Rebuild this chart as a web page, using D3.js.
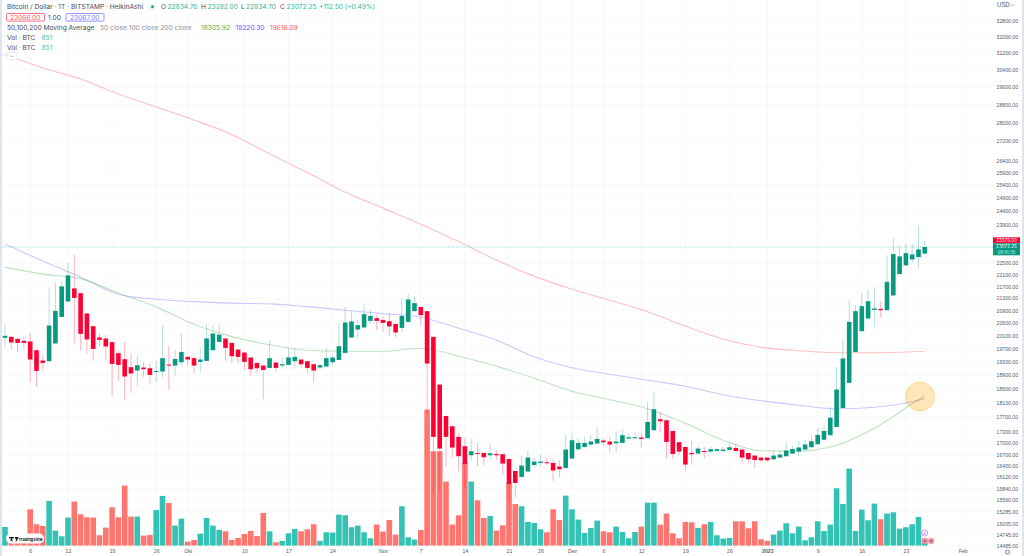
<!DOCTYPE html>
<html>
<head>
<meta charset="utf-8">
<script src="https://cdn.jsdelivr.net/npm/d3@7/dist/d3.min.js"></script>
<style>
  html, body { margin: 0; padding: 0; background: #fff; }
  svg { display: block; font-family: Inter, "Noto Sans", sans-serif; }
  .axis text { fill: #5a5d68; font-size: 5.2px; }
  .axis .domain, .axis line { display: none; }
  .legend text { font-size: 6.65px; fill: #4a4d57; }
</style>
</head>
<body>
<script>
// daily Heikin Ashi candles, 2 Sep 2022 .. 26 Jan 2023
const firstDay = new Date(Date.UTC(2022, 8, 2));

const opens = [
  20030,20060,19997,19934,19916,19647,19334,19313,19854,20693,
  21195,21630,21472,20803,20396,20040,20009,19894,19556,19373,
  19134,19035,19125,19104,18994,19006,19212,19183,19283,19444,
  19404,19292,19322,19647,19903,20009,19873,19669,19577,19425,
  19262,19183,19113,19274,19183,19203,19313,19364,19313,19223,
  19125,19155,19283,19352,19565,20040,20291,20355,20565,20652,
  20597,20555,20469,20342,20533,20878,21018,20878,20060,18625,
  17736,17454,17167,16919,16683,16743,16743,16683,16717,16709,
  16587,16280,16129,16265,16433,16484,16502,16484,16392,16357,
  16597,16840,16900,16964,16990,17070,17043,16998,17006,17123,
  17131,17150,17131,17345,17645,17617,17326,17025,16900,16743,
  16727,16795,16779,16795,16795,16821,16874,16832,16743,16675,
  16623,16623,16579,16623,16657,16727,16779,16832,16892,16972,
  17091,17212,17435,17958,18672,19595,20238,20642,20920,20953,
  20910,21395,22118,22420,22630,22712,22834.7
];
const highs = [
  20460,20070,20018,20040,20185,19678,19525,21630,21833,21887,
  22511,22810,21472,20803,20396,20164,20112,19894,19647,19903,
  19546,19495,19292,19244,19322,20396,19780,19647,20185,19486,
  19465,19730,20460,20412,20450,20009,19873,19669,19577,19425,
  19262,19183,19956,19274,19425,19700,19709,19364,19313,19223,
  19244,19709,19525,20482,21018,20887,20610,21107,20910,20749,
  20693,20803,20469,21295,21462,21372,21018,20878,20060,18625,
  17736,17454,17257,17150,17112,16990,16761,16990,16813,16735,
  16587,16280,16675,16813,16639,16709,16613,16553,16553,17238,
  17273,17123,17167,17212,17435,17123,17167,17318,17364,17257,
  17283,17265,18118,18394,17847,17617,17326,17025,16900,17060,
  16927,16900,16919,16866,16900,16990,16972,16832,16743,16675,
  16623,16623,16795,16821,17006,16919,17043,17078,17192,17399,
  17489,17992,19143,20009,21261,21074,21462,21606,21663,21205,
  22783,23382,23078,23177,23177,23830,23282
];
const lows = [
  19770,19680,19595,19669,18692,18556,19044,19313,19854,20693,
  21195,19873,19647,19525,19343,19749,19364,18288,18730,18174,
  18383,18556,18847,18654,18701,18829,18480,18888,19193,19193,
  18947,18994,19322,19647,19903,19343,19262,19244,19044,18868,
  18965,18203,19113,18994,19095,19203,19095,19125,18947,18683,
  19065,19125,19214,19352,19565,20040,19997,20355,20482,20269,
  20216,20081,20060,20197,20533,20878,20406,17755,15700,15756,
  16407,16623,16280,15823,16535,16400,16426,16571,16553,16190,
  15530,15620,16129,16265,16357,16400,16426,16029,16129,16357,
  16597,16813,16866,16900,16990,16938,16753,16753,17006,17097,
  17097,16885,17131,17345,17300,16597,16597,16683,16316,16451,
  16709,16597,16761,16779,16753,16795,16779,16502,16484,16357,
  16484,16502,16553,16613,16649,16717,16665,16832,16892,16972,
  17091,17212,17435,17958,18672,19595,20238,20642,20374,20674,
  20910,21395,22118,22420,22511,22350,22834.7
];
const closes = [
  20090,19885,19873,19873,19364,19023,19262,20418,20887,21698,
  22073,21315,20153,19978,19687,19965,19761,19232,19203,18859,
  18947,19193,19074,18906,19023,19404,19183,19383,19595,19364,
  19183,19364,20009,20164,20128,19718,19465,19444,19292,19074,
  19104,19053,19404,19113,19223,19425,19444,19223,19113,19035,
  19193,19404,19425,19771,20514,20546,20428,20781,20726,20565,
  20501,20387,20197,20726,21261,21140,20749,19244,17167,16858,
  17167,16885,16657,16459,16787,16717,16631,16735,16683,16469,
  15954,15979,16418,16623,16520,16520,16477,16290,16324,16832,
  17078,17006,17006,17043,17113,17025,16964,17043,17212,17158,
  17158,17113,17571,17922,17590,17033,16717,16779,16443,16709,
  16858,16779,16840,16840,16832,16892,16795,16623,16579,16561,
  16553,16553,16675,16701,16805,16847,16885,16964,17051,17220,
  17326,17686,18480,19395,20533,20878,21041,21205,20966,20910,
  21853,22818,22736,22854,22806,22985,23072.25
];
const volumes = [
  2240,960,840,960,4360,2560,2360,5360,1800,1120,
  3360,5280,3760,3400,3360,1240,2160,4600,3400,7200,
  3480,3480,1200,1280,4280,5960,5120,2400,3240,480,
  680,1440,3320,2400,1880,1720,680,920,1400,1760,
  1160,3920,1720,400,560,1480,2000,1720,1960,2560,
  560,1600,1560,3720,3640,2200,2400,1600,880,2520,
  1680,3080,1320,4720,1000,720,1880,16320,11320,11320,
  7680,2520,3640,9920,7680,5440,3320,3560,1800,2440,
  7480,5000,4720,2840,2720,1960,1600,4360,3080,6000,
  4360,3120,1520,2120,3000,1720,1600,2280,1640,880,
  1640,2280,5160,5160,2520,3840,1480,880,2840,2800,
  2120,2560,2840,1240,840,920,2920,2920,2080,2920,
  760,560,1320,1800,2680,1480,2280,640,1000,2920,
  1760,2520,6880,5000,9240,1760,4320,3040,5040,3160,
  3840,4000,2040,2200,2560,3440,851
];

// moving averages, read every sixth candle (last point is the last candle)
const maDayIndex = [0,6,12,18,24,30,36,42,48,54,60,66,72,78,84,90,96,102,108,114,120,126,132,138,144,146];
const ma50 = [22361,22118,21963,21472,21018,20460,20066,19817,19647,19617,19617,19709,19465,19163,18809,18431,18188,17936,17535,17078,16800,16787,16945,17399,18076,18305.92];
const ma100 = [23184,22571,22014,21438,21271,21189,21140,21117,21025,20910,20797,20684,20333,19956,19449,19119,18926,18750,18576,18331,18160,18034,17936,17978,18132,18220.3];
const ma200 = [31141,30484,29966,29273,28687,28113,27486,26664,25906,25128,24511,23907,23267,22606,22049,21606,21238,20862,20396,19987,19740,19632,19571,19571,19600,19616.09];

const yTicks = [32800,32000,31200,30400,29600,28800,28000,27200,26400,25900,25400,24900,24400,23900,22500,22100,21700,21300,20900,20500,20100,19700,19300,18900,18500,18100,17700,17300,17000,16700,16400,16120,15840,15560,15285,15005,14745,14485];

const xTickDates = [[2022,8,6],[2022,8,12],[2022,8,19],[2022,8,26],[2022,9,1],[2022,9,10],[2022,9,17],[2022,9,24],[2022,10,1],[2022,10,7],[2022,10,14],[2022,10,21],[2022,10,26],[2022,11,1],[2022,11,6],[2022,11,12],[2022,11,19],[2022,11,26],[2023,0,1],[2023,0,9],[2023,0,16],[2023,0,23],[2023,1,1]];
const xTickLabels = ["6","12","19","26","Okt","10","17","24","Nov","7","14","21","26","Dez","6","12","19","26","2023","9","16","23","Feb"];

const headerValues = ["22834.70","23282.00","22834.70","23072.25"];
const lastPrice = 23072.25, redPrice = 23376;

const width = 1024, height = 556;
const upColor = "#089981", downColor = "#ff0033";
const volUp = "#33c2b3", volDown = "#ff7670";
const lightUp = "rgba(8,153,129,0.3)", lightDown = "rgba(255,0,51,0.3)";
const gridColor = "#f6f6f9";

const dayMs = 864e5;
const dayOf = i => new Date(firstDay.getTime() + i * dayMs);

const x = d3.scaleUtc()
  .domain([dayOf(0), dayOf(146)])
  .range([5, 924.8]);
const y = d3.scaleLog()
  .domain([14485, 32800])
  .range([546, 21]);
const yVol = d3.scaleLinear()
  .domain([0, 16320])
  .range([545.6, 409.6]);

const svg = d3.select("body").append("svg")
  .attr("width", width)
  .attr("height", height);

const xDates = xTickDates.map(d => new Date(Date.UTC(d[0], d[1], d[2])));

// grid
const grid = svg.append("g").attr("stroke", gridColor).attr("stroke-width", 0.7);
grid.selectAll(".h").data(yTicks).enter().append("line")
  .attr("x1", 2).attr("x2", 994)
  .attr("y1", d => y(d)).attr("y2", d => y(d));
grid.selectAll(".v").data(xDates).enter().append("line")
  .attr("y1", 0).attr("y2", 546)
  .attr("x1", d => x(d)).attr("x2", d => x(d));

// side strips
svg.append("rect").attr("x", 0).attr("y", 0).attr("width", 2).attr("height", height).attr("fill", "#e1e4f0");
svg.append("rect").attr("x", 1022).attr("y", 0).attr("width", 2).attr("height", height).attr("fill", "#e1e4f0");

const candles = d3.range(opens.length).map(i => ({
  date: dayOf(i), o: opens[i], h: highs[i], l: lows[i], c: closes[i], v: volumes[i], up: closes[i] >= opens[i]
}));

// volume sits behind the candles
const volW = 5.6;
svg.append("g").selectAll("rect").data(candles).enter().append("rect")
  .attr("x", d => x(d.date) - volW / 2)
  .attr("width", volW)
  .attr("y", d => yVol(d.v))
  .attr("height", d => yVol(0) - yVol(d.v))
  .attr("fill", d => d.up ? volUp : volDown);

// moving averages
const maLine = d3.line()
  .x((d, i) => x(dayOf(maDayIndex[i])))
  .y(d => y(d))
  .curve(d3.curveMonotoneX);
[[ma200, "rgba(255,82,82,0.36)"], [ma100, "rgba(101,85,255,0.32)"], [ma50, "rgba(76,175,80,0.36)"]].forEach(m => {
  svg.append("path").attr("d", maLine(m[0]))
    .attr("fill", "none").attr("stroke", m[1]).attr("stroke-width", 1.1);
});

// last price line
svg.append("line")
  .attr("x1", 2).attr("x2", 994)
  .attr("y1", y(lastPrice)).attr("y2", y(lastPrice))
  .attr("stroke", "#089981").attr("stroke-opacity", 0.55)
  .attr("stroke-width", 0.7).attr("stroke-dasharray", "1,1");

// candles
const bodyW = 4.6;
const candle = svg.append("g").selectAll("g").data(candles).enter().append("g");
candle.append("line")
  .attr("x1", d => x(d.date)).attr("x2", d => x(d.date))
  .attr("y1", d => y(d.h)).attr("y2", d => y(d.l))
  .attr("stroke", d => d.up ? lightUp : lightDown)
  .attr("stroke-width", 1);
candle.append("rect")
  .attr("x", d => x(d.date) - bodyW / 2)
  .attr("width", bodyW)
  .attr("y", d => y(Math.max(d.o, d.c)))
  .attr("height", d => Math.max(1, y(Math.min(d.o, d.c)) - y(Math.max(d.o, d.c))))
  .attr("fill", d => d.up ? upColor : downColor);

// highlight circle around the cross
svg.append("circle")
  .attr("cx", x(dayOf(145)) + 1.5).attr("cy", y(18280))
  .attr("r", 14.5)
  .attr("fill", "rgba(255,165,0,0.27)")
  .attr("stroke", "rgba(255,165,0,0.42)").attr("stroke-width", 0.8);

// axes
svg.append("g").attr("class", "axis")
  .attr("transform", "translate(996.5,0)")
  .call(d3.axisRight(y).tickValues(yTicks).tickSize(0).tickPadding(0).tickFormat(d => d.toFixed(2)));
svg.append("g").attr("class", "axis")
  .attr("transform", "translate(0,547)")
  .call(d3.axisBottom(x).tickValues(xDates).tickSize(0).tickPadding(2)
    .tickFormat((d, i) => xTickLabels[i]));
svg.selectAll(".axis text").filter(d => d === xDates[18]).attr("font-weight", 700);

svg.append("text").attr("x", 997).attr("y", 7).attr("fill", "#50535e").attr("font-size", 6).text("USD");
svg.append("path").attr("d", "M1011 4.5l1.5 1.5 1.5-1.5").attr("fill", "none").attr("stroke", "#50535e").attr("stroke-width", 0.5);

// price tags
svg.append("rect").attr("x", 993).attr("y", 237.3).attr("width", 27).attr("height", 6).attr("fill", "#ff0033");
svg.append("text").attr("x", 1006.5).attr("y", 242).attr("text-anchor", "middle").attr("font-size", 4.6).attr("fill", "#fff").text(redPrice.toFixed(2));
svg.append("rect").attr("x", 993).attr("y", 243.3).attr("width", 27).attr("height", 12).attr("fill", "#089981");
svg.append("text").attr("x", 1006.5).attr("y", 248.3).attr("text-anchor", "middle").attr("font-size", 4.6).attr("fill", "#fff").text(lastPrice.toFixed(2));
svg.append("text").attr("x", 1006.5).attr("y", 253.6).attr("text-anchor", "middle").attr("font-size", 4.2).attr("fill", "#cdeee8").text("08:45:35");

// gear
svg.append("circle").attr("cx", 1007.5).attr("cy", 552).attr("r", 2).attr("fill", "none").attr("stroke", "#50535e").attr("stroke-width", 0.7);

// legend block
const legend = svg.append("g").attr("class", "legend");
const addText = (tx, ty, str, color) => legend.append("text").attr("x", tx).attr("y", ty).attr("fill", color || "#4a4d57").style("fill", color || "#4a4d57").text(str);

addText(7, 9, "Bitcoin / Dollar · 1T · BITSTAMP · HeikinAshi");
legend.append("circle").attr("cx", 152.5).attr("cy", 6.8).attr("r", 2.6).attr("fill", "#d5f0ea");
legend.append("circle").attr("cx", 152.5).attr("cy", 6.8).attr("r", 1.3).attr("fill", "#089981");
const ohlcX = [161, 201, 241, 280];
["O", "H", "L", "C"].forEach((k, i) => {
  addText(ohlcX[i], 9, k);
  addText(ohlcX[i] + (i === 2 ? 5 : 6.5), 9, headerValues[i], "#2bb8a0");
});
addText(319, 9, "+112.50 (+0.49%)", "#2bb8a0");

legend.append("rect").attr("x", 6.5).attr("y", 13.5).attr("width", 38).attr("height", 7.6).attr("rx", 1.2)
  .attr("fill", "#fff").attr("stroke", "#ff4d6d").attr("stroke-width", 0.8);
addText(10, 19.8, "23066.00", "#ff4d6d");
addText(48, 19.8, "1.00");
legend.append("rect").attr("x", 66).attr("y", 13.5).attr("width", 38).attr("height", 7.6).attr("rx", 1.2)
  .attr("fill", "#fff").attr("stroke", "#7b7bff").attr("stroke-width", 0.8);
addText(70, 19.8, "23067.00", "#7b7bff");

addText(7, 30, "50,100,200 Moving Average");
addText(100, 30, "50 close 100 close 200 close", "#8d909a");
addText(201, 30, "18305.92", "#4caf50");
addText(235.5, 30, "18220.30", "#6655ff");
addText(270, 30, "19616.09", "#ff5252");

addText(7, 40, "Vol · BTC");
addText(41.5, 40, "851", "#33c2b3");
addText(7, 49.5, "Vol · BTC");
addText(41.5, 49.5, "851", "#33c2b3");

// collapse button
legend.append("rect").attr("x", 7).attr("y", 52.5).attr("width", 10).attr("height", 7.5).attr("rx", 1)
  .attr("fill", "#fff").attr("stroke", "#dcdfe8").attr("stroke-width", 0.6);
legend.append("path").attr("d", "M10.8 57l1.2-1.2 1.2 1.2").attr("fill", "none").attr("stroke", "#50535e").attr("stroke-width", 0.5);

// TradingView badge
const badge = svg.append("g");
badge.append("rect").attr("x", 6).attr("y", 533.5).attr("width", 38).attr("height", 10).attr("rx", 5).attr("fill", "#fff");
badge.append("path").attr("d", "M9 537h5v1.2h-1.6v3h-1.7v-3H9zM15 537h3.6l-2 4.2h-1.2l.8-1.8-1.2-1.2z").attr("fill", "#131722");
badge.append("text").attr("x", 18.5).attr("y", 540.6).attr("font-size", 3.9).attr("font-weight", 700).attr("fill", "#131722").text("TradingView");

// event markers on the last bars
const marks = svg.append("g");
marks.append("circle").attr("cx", x(dayOf(146))).attr("cy", 533).attr("r", 3).attr("fill", "#fff").attr("stroke", "#c77dda").attr("stroke-width", 0.8);
marks.append("text").attr("x", x(dayOf(146))).attr("y", 534.6).attr("text-anchor", "middle").attr("font-size", 4).attr("fill", "#a040c0").text("E");
[0, 1].forEach(k => {
  marks.append("circle").attr("cx", x(dayOf(146 + k))).attr("cy", 541).attr("r", 3).attr("fill", "#ff9a9a").attr("stroke", "#ff8080").attr("stroke-width", 0.5);
  marks.append("circle").attr("cx", x(dayOf(146 + k))).attr("cy", 541).attr("r", 1.2).attr("fill", "#4a78d8");
});
</script>
</body>
</html>
